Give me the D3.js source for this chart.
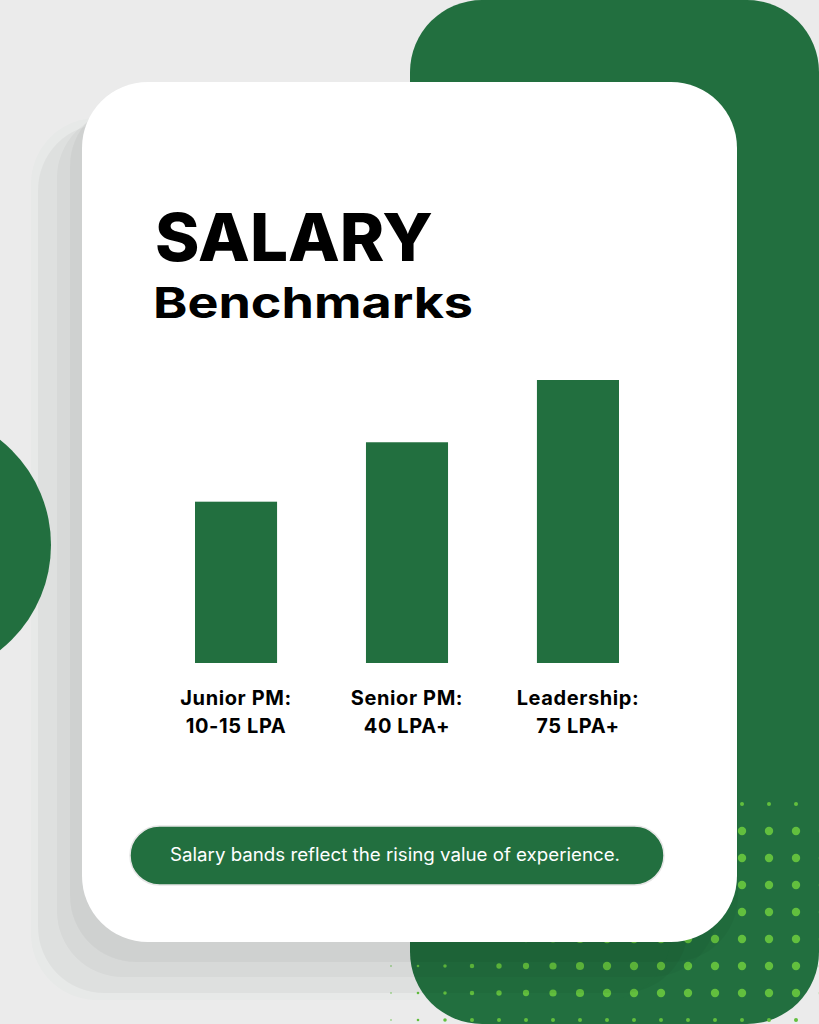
<!DOCTYPE html>
<meta charset="utf-8">
<title>Salary Benchmarks</title>
<style>
  body { margin: 0; background-color: #ebebeb; }
  svg { display: block; }
  .title { font-family: Inter, "Open Sans", sans-serif; fill: #000; }
  .label { font-family: Inter, "Open Sans", sans-serif; font-weight: 700; font-size: 20px; letter-spacing: 0.6px; fill: #000; }
  .note { font-family: Inter, "Open Sans", sans-serif; font-weight: 400; font-size: 18px; fill: #fff; }
</style>
<svg width="819" height="1024"></svg>
<script src="https://cdn.jsdelivr.net/npm/d3@7"></script>
<script>
  // chart values
  var roles = ["Junior PM:", "Senior PM:", "Leadership:"];
  var salaries = ["10-15 LPA", "40 LPA+", "75 LPA+"];
  var barLevels = [57, 78, 100];   // relative bar height

  var green = "#226f3f",
      dotGreen = "#62bf3e";

  var svg = d3.select("svg"),
      width = +svg.attr("width"),
      height = +svg.attr("height");

  // background decoration
  svg.append("rect")
      .attr("width", width).attr("height", height)
      .attr("fill", "#ebebeb");

  svg.append("rect")
      .attr("x", 410).attr("y", 0)
      .attr("width", 409).attr("height", 1024)
      .attr("rx", 72)
      .attr("fill", green);

  // dot grid on the green panel
  var dotCols = d3.range(0, 17).map(function(k) { return 823 - 27 * k; }),
      dotRows = d3.range(0, 9).map(function(j) { return 804 + 27 * j; });
  var dots = [];
  dotRows.forEach(function(y, j) {
    dotCols.forEach(function(x) {
      var r = Math.max(1, Math.min(4.2, 1 + (x - 400) * 0.017));
      if (j === 0 || j === 8) r = Math.min(r, 2);
      dots.push({x: x, y: y, r: r});
    });
  });
  svg.append("g")
      .selectAll("circle")
      .data(dots)
      .enter().append("circle")
      .attr("cx", function(d) { return d.x; })
      .attr("cy", function(d) { return d.y; })
      .attr("r", function(d) { return d.r; })
      .attr("fill", dotGreen)
      .attr("opacity", function(d) { return d.x < 410 ? 0.5 : 1; });

  // stacked card shadows
  var shadows = [
    {x: 31, y: 118, w: 640, h: 882, o: 0.02, c: "#3f9a5f"},
    {x: 38, y: 124, w: 650, h: 869, o: 0.035, c: "#000"},
    {x: 57, y: 112, w: 660, h: 865, o: 0.03, c: "#000"},
    {x: 70, y: 100, w: 668, h: 862, o: 0.035, c: "#000"}
  ];
  svg.append("g")
      .selectAll("rect")
      .data(shadows)
      .enter().append("rect")
      .attr("x", function(d) { return d.x; })
      .attr("y", function(d) { return d.y; })
      .attr("width", function(d) { return d.w; })
      .attr("height", function(d) { return d.h; })
      .attr("rx", 66)
      .attr("fill", function(d) { return d.c; })
      .attr("fill-opacity", function(d) { return d.o; });

  svg.append("circle")
      .attr("cx", -83).attr("cy", 545).attr("r", 134)
      .attr("fill", green);

  // white card
  svg.append("rect")
      .attr("x", 82).attr("y", 82)
      .attr("width", 655).attr("height", 860)
      .attr("rx", 66)
      .attr("fill", "#fff");

  // title
  svg.append("text")
      .attr("class", "title")
      .attr("x", 155).attr("y", 261)
      .attr("font-size", 66).attr("font-weight", 800)
      .attr("textLength", 278).attr("lengthAdjust", "spacingAndGlyphs")
      .text("SALARY");

  svg.append("text")
      .attr("class", "title")
      .attr("x", 153).attr("y", 318)
      .attr("font-size", 43).attr("font-weight", 700)
      .attr("textLength", 320).attr("lengthAdjust", "spacingAndGlyphs")
      .text("Benchmarks");

  // bars
  var x = d3.scaleBand()
      .domain(roles)
      .range([195, 619])
      .paddingInner(0.52)
      .paddingOuter(0);

  var y = d3.scaleLinear()
      .domain([0, 100])
      .range([663, 380]);

  svg.append("g")
      .selectAll("rect")
      .data(barLevels)
      .enter().append("rect")
      .attr("x", function(d, i) { return x(roles[i]); })
      .attr("y", function(d) { return y(d); })
      .attr("width", x.bandwidth())
      .attr("height", function(d) { return y(0) - y(d); })
      .attr("fill", green);

  var labels = svg.append("g")
      .selectAll("g")
      .data(roles)
      .enter().append("g")
      .attr("transform", function(d) { return "translate(" + (x(d) + x.bandwidth() / 2) + ",0)"; });

  labels.append("text")
      .attr("class", "label")
      .attr("text-anchor", "middle")
      .attr("y", 705)
      .text(function(d) { return d; });

  labels.append("text")
      .attr("class", "label")
      .attr("text-anchor", "middle")
      .attr("y", 733)
      .text(function(d, i) { return salaries[i]; });

  // bottom note pill
  svg.append("rect")
      .attr("x", 130).attr("y", 826)
      .attr("width", 534).attr("height", 59)
      .attr("rx", 29.5)
      .attr("fill", green)
      .attr("stroke", "#e6e6e6")
      .attr("stroke-width", 1.5);

  svg.append("text")
      .attr("class", "note")
      .attr("x", 395).attr("y", 861)
      .attr("text-anchor", "middle")
      .attr("textLength", 450).attr("lengthAdjust", "spacingAndGlyphs")
      .text("Salary bands reflect the rising value of experience.");
</script>
